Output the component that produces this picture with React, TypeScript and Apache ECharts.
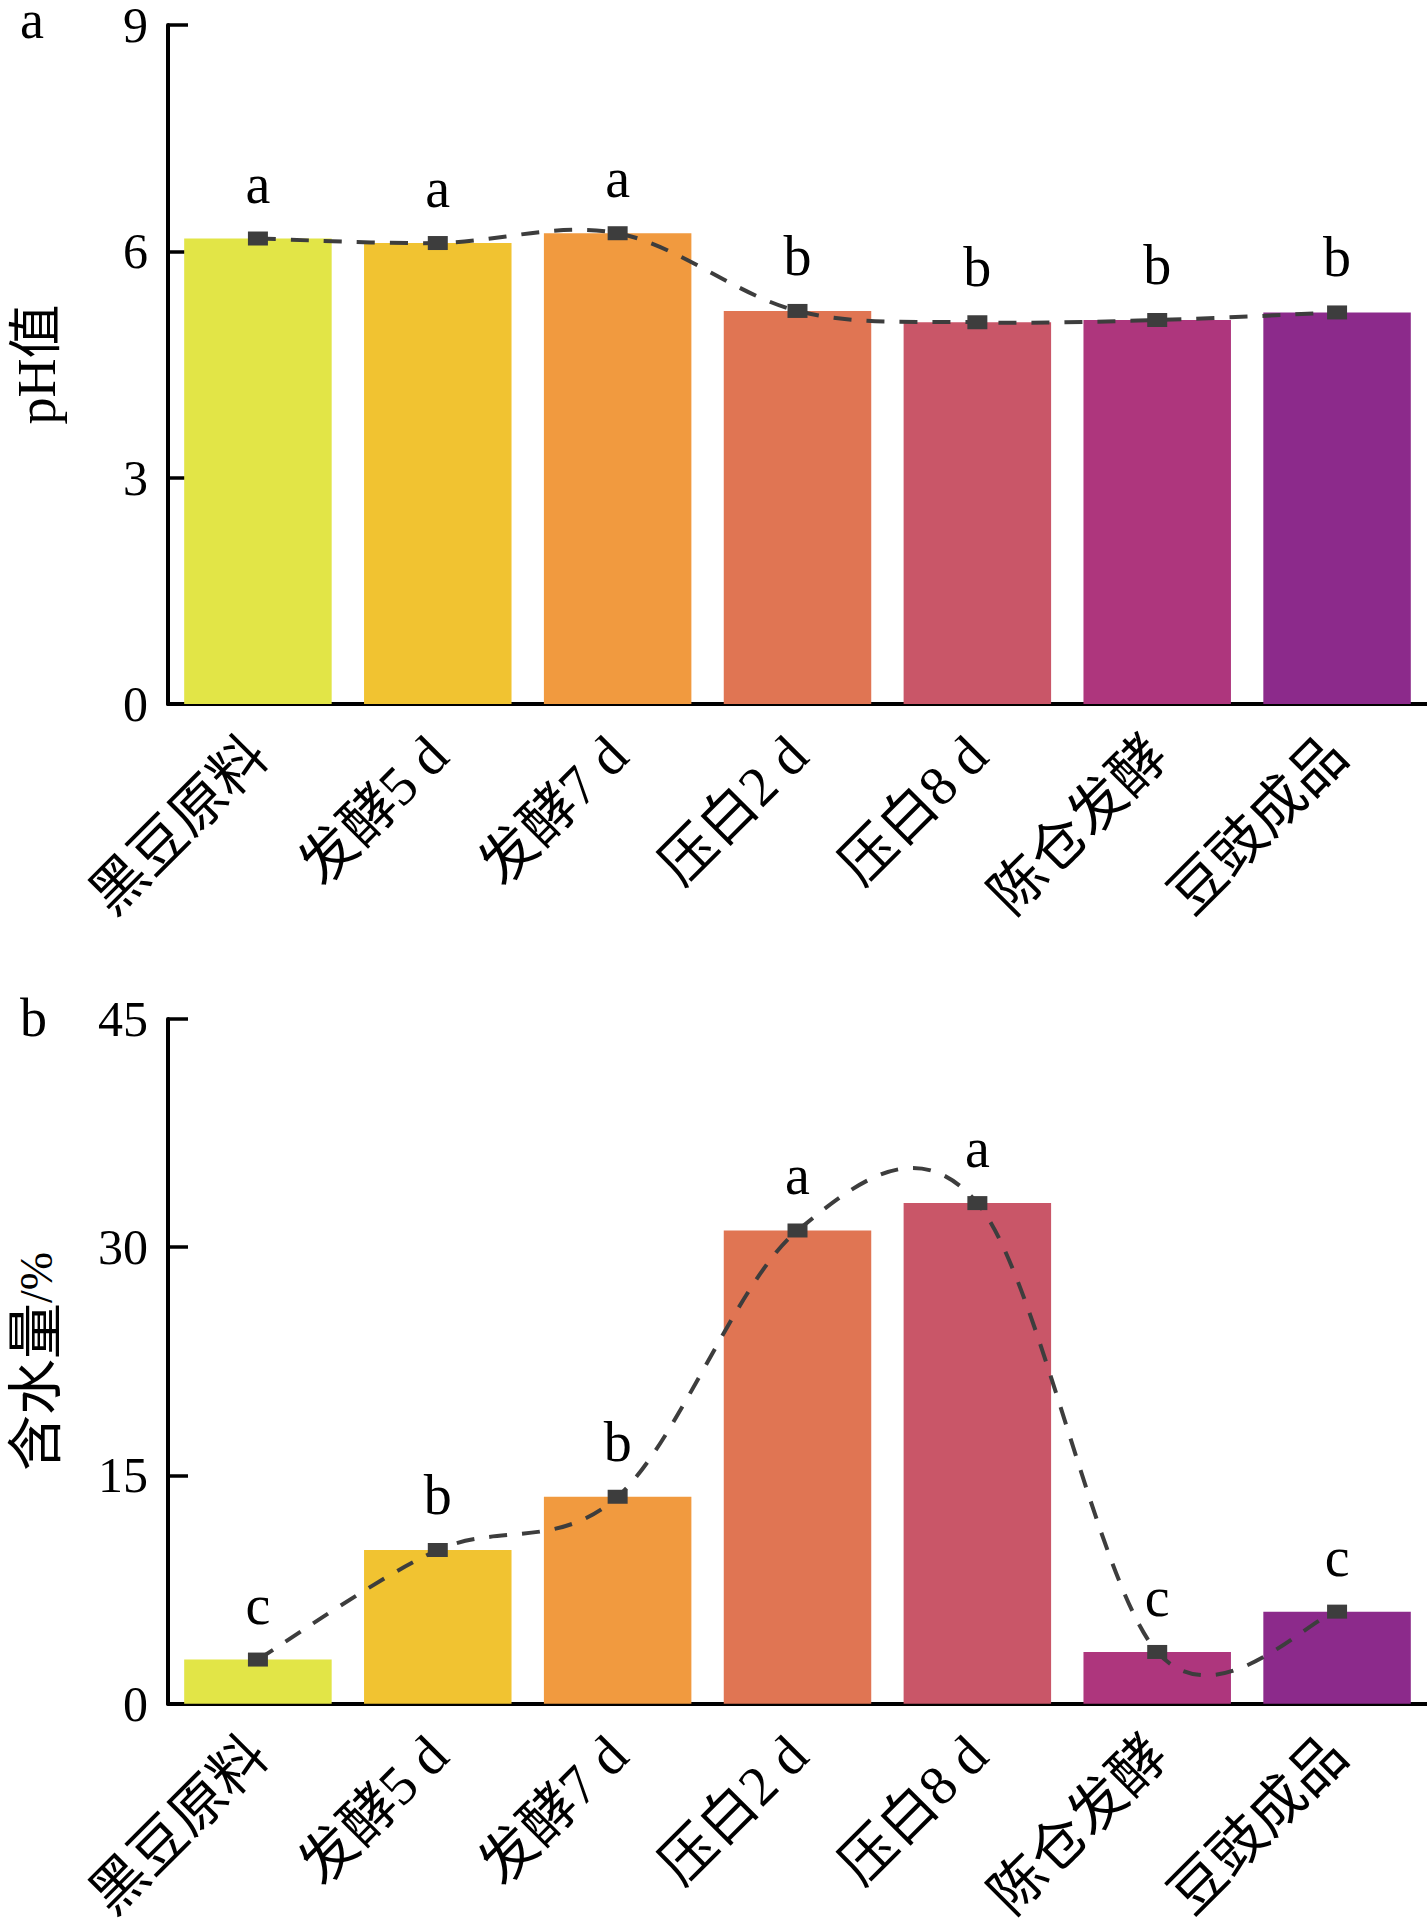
import React, { useEffect, useRef } from "react";
import * as echarts from "echarts";

const categories = ["黑豆原料", "发酵5 d", "发酵7 d", "压白2 d", "压白8 d", "陈仓发酵", "豆豉成品"];
const phValues = [6.17, 6.11, 6.24, 5.21, 5.06, 5.09, 5.19];
const phLetters = ["a", "a", "a", "b", "b", "b", "b"];
const waterValues = [2.9, 10.1, 13.6, 31.1, 32.9, 3.4, 6.05];
const waterLetters = ["c", "b", "b", "a", "a", "c", "c"];
const barColors = ["#E2E547", "#F1C331", "#F19A3F", "#E07553", "#C95668", "#AE367D", "#8C2A8B"];
const phAxis = { min: 0, max: 9, interval: 3 };
const waterAxis = { min: 0, max: 45, interval: 15 };

const SERIF = "'Liberation Serif', 'Times New Roman', 'Noto Sans CJK SC', serif";
const LINE_COLOR = "#3D3D3D";

// Catmull-Rom spline through pixel points, expressed as cubic Bezier segments
function splinePath(pts: number[][]): string {
  let d = `M${pts[0][0]},${pts[0][1]}`;
  for (let i = 0; i < pts.length - 1; i++) {
    const p0 = pts[i - 1] || pts[i];
    const p1 = pts[i];
    const p2 = pts[i + 1];
    const p3 = pts[i + 2] || pts[i + 1];
    const c1x = p1[0] + (p2[0] - p0[0]) / 6;
    const c1y = p1[1] + (p2[1] - p0[1]) / 6;
    const c2x = p2[0] - (p3[0] - p1[0]) / 6;
    const c2y = p2[1] - (p3[1] - p1[1]) / 6;
    d += ` C${c1x},${c1y} ${c2x},${c2y} ${p2[0]},${p2[1]}`;
  }
  return d;
}

export default function App() {
  const ref = useRef<HTMLDivElement>(null);
  useEffect(() => {
    if (!ref.current) return;
    const chart = echarts.init(ref.current, undefined, { renderer: "svg" });
    const grids = [
      { left: 168, top: 21, right: 0, height: 683 },
      { left: 168, top: 1019, right: 0, height: 685 },
    ];
    const xAxisBase = (gi: number) => ({
      type: "category",
      gridIndex: gi,
      data: categories,
      axisLine: { show: true, lineStyle: { color: "#000", width: 4 } },
      axisTick: { show: false },
      axisLabel: {
        rotate: 45,
        margin: 42,
        color: "#000",
        fontSize: 56,
        fontFamily: SERIF,
        interval: 0,
      },
      splitLine: { show: false },
    });
    const yAxisBase = (gi: number, ax: any, name: any, rich?: any) => ({
      type: "value",
      gridIndex: gi,
      min: ax.min,
      max: ax.max,
      interval: ax.interval,
      name,
      nameLocation: "middle",
      nameRotate: 90,
      nameGap: 104,
      nameTextStyle: { color: "#000", fontSize: 54, fontFamily: SERIF, rich },
      axisLine: { show: true, lineStyle: { color: "#000", width: 4 } },
      axisTick: { show: true, inside: true, length: 20, lineStyle: { color: "#000", width: 3.5 } },
      axisLabel: { color: "#000", fontSize: 50, lineHeight: 40, fontFamily: SERIF, margin: 20 },
      splitLine: { show: false },
    });
    const barSeries = (gi: number, vals: number[], letters: string[]) => ({
      type: "bar",
      xAxisIndex: gi,
      yAxisIndex: gi,
      barCategoryGap: "18%",
      data: vals.map((v, i) => ({ value: v, itemStyle: { color: barColors[i] } })),
      label: {
        show: true,
        position: "top",
        distance: 27,
        color: "#000",
        fontSize: 56,
        fontFamily: SERIF,
        formatter: (p: any) => letters[p.dataIndex],
      },
      z: 2,
    });
    const curveSeries = (gi: number, vals: number[]) => ({
      type: "custom",
      xAxisIndex: gi,
      yAxisIndex: gi,
      silent: true,
      z: 3,
      encode: { x: 0, y: 1 },
      data: vals.map((v, i) => [i, v]),
      renderItem: (params: any, api: any) => {
        if (params.dataIndex !== 0) return null;
        const pts = vals.map((v, i) => api.coord([i, v]));
        return {
          type: "path",
          shape: { pathData: splinePath(pts) },
          style: { stroke: LINE_COLOR, lineWidth: 4, lineDash: [18, 15], fill: "none" },
        };
      },
    });
    const markerSeries = (gi: number, vals: number[]) => ({
      type: "scatter",
      xAxisIndex: gi,
      yAxisIndex: gi,
      data: vals,
      symbol: "rect",
      symbolSize: [20, 14],
      itemStyle: { color: LINE_COLOR, opacity: 1 },
      z: 4,
    });
    chart.setOption({
      animation: false,
      backgroundColor: "#fff",
      grid: grids,
      xAxis: [xAxisBase(0), xAxisBase(1)],
      yAxis: [
        yAxisBase(0, phAxis, "pH值"),
        yAxisBase(1, waterAxis, "{m|含水量}{s|/%}", {
          m: { fontSize: 56, fontFamily: SERIF, color: "#000" },
          s: { fontSize: 46, fontFamily: SERIF, color: "#000" },
        }),
      ],
      series: [
        barSeries(0, phValues, phLetters),
        curveSeries(0, phValues),
        markerSeries(0, phValues),
        barSeries(1, waterValues, waterLetters),
        curveSeries(1, waterValues),
        markerSeries(1, waterValues),
      ],
      graphic: [
        {
          type: "text",
          x: 20,
          y: 20,
          style: {
            text: "a",
            fontSize: 54,
            lineHeight: 40,
            fontFamily: SERIF,
            fill: "#000",
            verticalAlign: "middle",
          },
        },
        {
          type: "text",
          x: 20,
          y: 1018,
          style: {
            text: "b",
            fontSize: 54,
            lineHeight: 44,
            fontFamily: SERIF,
            fill: "#000",
            verticalAlign: "middle",
          },
        },
      ],
    });
    return () => chart.dispose();
  }, []);
  return (
    <div
      ref={ref}
      style={{ position: "absolute", left: 0, top: 0, width: 1427, height: 1926, background: "#fff" }}
    />
  );
}
